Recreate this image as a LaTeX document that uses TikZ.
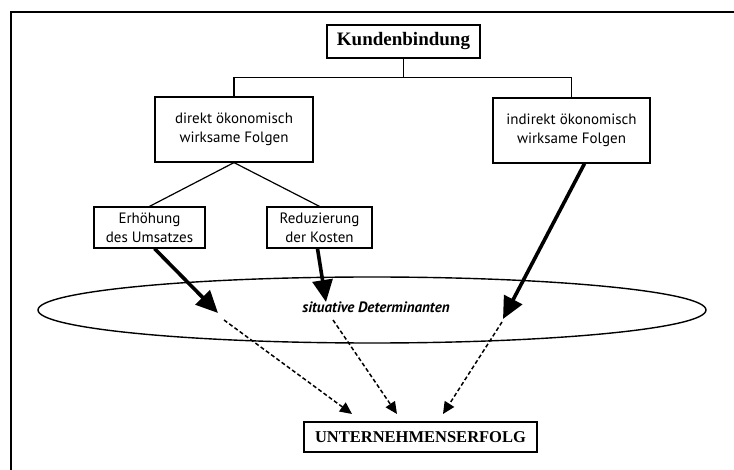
\documentclass[tikz,border=0pt]{standalone}
\usepackage{fontspec}
\setmainfont{Liberation Serif}
\newfontfamily\boxfont{PT Sans}
\usetikzlibrary{arrows.meta,calc,shapes.geometric}

\tikzset{
  box/.style={draw, line width=1.2pt, inner sep=0pt, align=center,
    font=\boxfont\fontsize{15}{19}\selectfont},
  titlebox/.style={draw, line width=1.2pt, inner sep=0pt,
    font=\bfseries\fontsize{19}{22}\selectfont},
  resultbox/.style={draw, line width=1.2pt, inner sep=0pt,
    font=\bfseries\fontsize{16.5}{19}\selectfont},
  link/.style={line width=1.2pt},
  strong/.style={line width=3.6pt, -{Triangle[length=22pt,width=20pt]}},
  weak/.style={line width=1.5pt, dash pattern=on 4pt off 2.5pt,
    -{Triangle[length=12pt,width=11pt]}},
}

\begin{document}
\begin{tikzpicture}[x=1pt, y=-1pt]
  \useasboundingbox (0,0) rectangle (734,470);

  % frame around the figure
  \draw[line width=2pt] (734,12) -- (11,12) -- (11,470);

  % boxes
  \node[titlebox, minimum width=153pt, minimum height=33pt] (kb) at (403.5,41.5) {Kundenbindung};
  \node[box, minimum width=158pt, minimum height=65pt] (dir) at (234,129.5)
    {direkt ökonomisch\\wirksame Folgen};
  \node[box, minimum width=157pt, minimum height=65pt] (ind) at (571.5,130.5)
    {indirekt ökonomisch\\wirksame Folgen};
  \node[box, minimum width=111pt, minimum height=41pt] (erh) at (149.5,227.5)
    {Erhöhung\\des Umsatzes};
  \node[box, minimum width=105pt, minimum height=41pt] (red) at (319.5,227.5)
    {Reduzierung\\der Kosten};
  \node[resultbox, minimum width=233pt, minimum height=30pt] (ue) at (420.5,437)
    {UNTERNEHMENSERFOLG};

  % situational determinants
  \node[draw, ellipse, line width=1.4pt, minimum width=668pt, minimum height=66pt,
        inner sep=0pt] (sit) at (372,310) {};
  \node[font=\boxfont\bfseries\itshape\fontsize{15}{18}\selectfont] (sitlabel) at (376,307)
    {situative Determinanten};

  % tree connectors
  \coordinate (hub) at (403.5,77.5);
  \draw[link] (kb) -- (hub);
  \draw[link] (dir.north) |- (hub) -| (ind.north);
  \draw[link] (dir.south) -- (erh.north);
  \draw[link] (dir.south) -- (red.north);

  % effects into the determinants
  \coordinate (t1) at (218,313);
  \coordinate (t2) at (326,302);
  \coordinate (t3) at (503,319);
  \coordinate (e1) at ($(erh.south)+(5,0)$);
  \coordinate (e2) at ($(red.south)+(-2,0)$);
  \coordinate (e3) at ($(ind.south)+(13,0)$);
  \draw[strong] (e1) -- (t1);
  \draw[strong] (e2) -- (t2);
  \draw[strong] (e3) -- (t3);

  % moderated influence on success
  \coordinate (s1) at (224,320);
  \coordinate (s2) at (333,320);
  \coordinate (s3) at (502,322);
  \coordinate (u1) at (352,414);
  \coordinate (u2) at (397,414);
  \coordinate (u3) at (443,414);
  \draw[weak] (s1) -- (u1);
  \draw[weak] (s2) -- (u2);
  \draw[weak] (s3) -- (u3);
\end{tikzpicture}
\end{document}
